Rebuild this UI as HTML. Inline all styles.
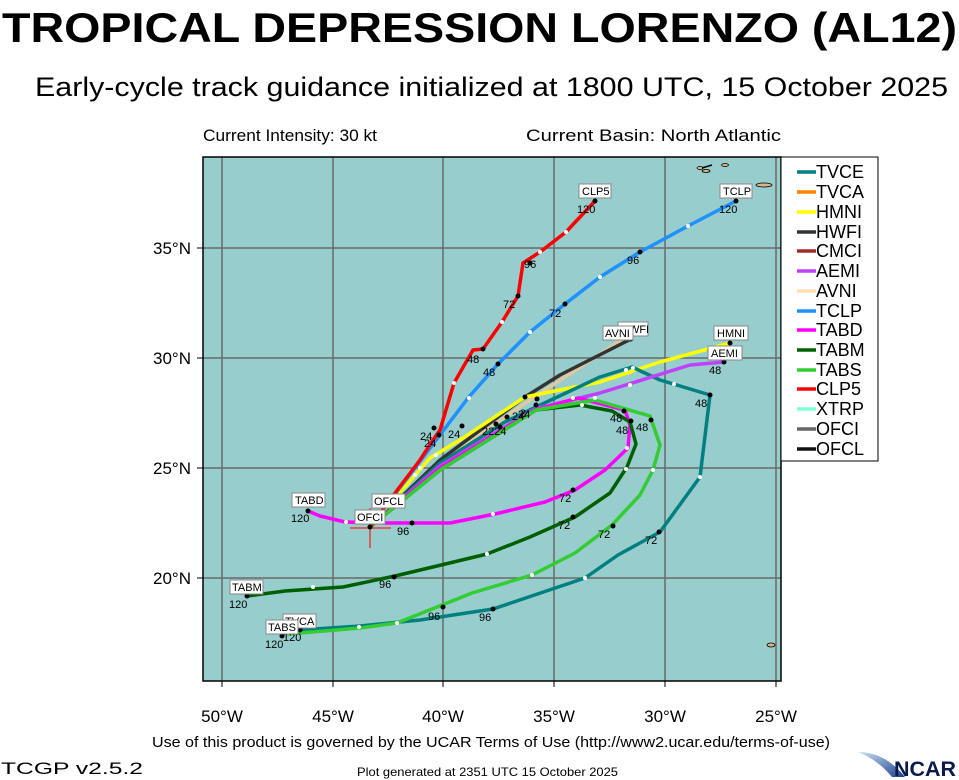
<!DOCTYPE html>
<html><head><meta charset="utf-8"><style>
html,body{margin:0;padding:0;background:#fff;}
svg{display:block;font-family:"Liberation Sans",Arial,sans-serif;}
</style></head><body>
<svg width="959" height="780" viewBox="0 0 959 780" xmlns="http://www.w3.org/2000/svg">
<rect width="959" height="780" fill="#fff"/>
<text x="2" y="42" font-size="42" font-weight="bold" textLength="955" lengthAdjust="spacingAndGlyphs">TROPICAL DEPRESSION LORENZO (AL12)</text>
<text x="35" y="96" font-size="27" textLength="913" lengthAdjust="spacingAndGlyphs">Early-cycle track guidance initialized at 1800 UTC, 15 October 2025</text>
<text x="203" y="141" font-size="17" textLength="174" lengthAdjust="spacingAndGlyphs">Current Intensity: 30 kt</text>
<text x="526" y="141" font-size="17" textLength="255" lengthAdjust="spacingAndGlyphs">Current Basin: North Atlantic</text>

<!-- map -->
<rect x="203" y="157" width="578" height="524" fill="#97cdcc"/>
<g stroke="#6a6a6a" stroke-width="1.5">
<line x1="222" y1="157" x2="222" y2="681"/><line x1="333" y1="157" x2="333" y2="681"/>
<line x1="443" y1="157" x2="443" y2="681"/><line x1="554" y1="157" x2="554" y2="681"/>
<line x1="665" y1="157" x2="665" y2="681"/><line x1="776" y1="157" x2="776" y2="681"/>
<line x1="203" y1="248" x2="781" y2="248"/><line x1="203" y1="358" x2="781" y2="358"/>
<line x1="203" y1="468" x2="781" y2="468"/><line x1="203" y1="578" x2="781" y2="578"/>
</g>
<!-- islands -->
<g fill="#d9b38c" stroke="#000" stroke-width="0.8">
<ellipse cx="700" cy="168" rx="3" ry="1.5"/><ellipse cx="706" cy="171" rx="4" ry="1.5"/>
<ellipse cx="725" cy="165" rx="3.5" ry="1.5"/><ellipse cx="764" cy="185" rx="8" ry="2"/>
<ellipse cx="771" cy="645" rx="4" ry="2"/>
</g>
<line x1="702" y1="168" x2="712" y2="165" stroke="#000" stroke-width="1.5"/>

<g fill="none" stroke-width="3.5" stroke-linejoin="round" stroke-linecap="round">
<polyline stroke="#e0c8a0" points="370,527 440,462 530,400 620,341"/>
<polyline stroke="#333" points="370,527 440,460 525,397 560,375 631,339"/>
<polyline stroke="#ffff00" points="370,527 430,458 460,440 525,397 600,382 660,362 730,343"/>
<polyline stroke="#008080" points="370,527 440,463 505,422 536,407 600,377 632,367 660,380 710,395 700,477 660,532 618,555 585,578 493,609 420,620 360,626 300,630"/>
<polyline stroke="#c040ff" points="370,527 440,466 535,409 600,393 690,365 724,362"/>
<polyline stroke="#ff00ff" points="370,527 440,468 535,410 578,398 625,410 630,425 628,448 605,470 575,490 545,502 495,514 450,523 411,523 385,523 345,522 320,516 308,511"/>
<polyline stroke="#006000" points="370,527 440,470 536,410 580,405 612,411 630,422 636,444 627,467 610,493 575,517 530,537 487,554 437,566 395,576 343,587 285,591 247,596"/>
<polyline stroke="#33cc33" points="370,527 440,470 536,410 595,400 650,416 660,445 653,470 640,495 612,525 575,553 532,575 472,593 397,623 360,628 288,634"/>
<polyline stroke="#1e90ff" points="370,527 440,435 468,398 498,364 530,332 565,304 600,277 640,252 688,226 736,201"/>
<polyline stroke="#ff0000" points="370,527 395,493 420,460 433,440 440,430 454,383 473,350 483,349 502,322 518,296 523,263 540,252 566,232 595,201"/>
</g>
<!-- dots -->
<g fill="#000">
<circle cx="595" cy="201" r="2.5"/><circle cx="736" cy="201" r="2.5"/><circle cx="483" cy="349" r="2.5"/>
<circle cx="498" cy="364" r="2.5"/><circle cx="518" cy="296" r="2.5"/><circle cx="565" cy="304" r="2.5"/>
<circle cx="640" cy="252" r="2.5"/><circle cx="530" cy="263" r="2.5"/><circle cx="434" cy="428" r="2.5"/>
<circle cx="439" cy="435" r="2.5"/><circle cx="462" cy="426" r="2.5"/><circle cx="631" cy="339" r="2.5"/>
<circle cx="730" cy="343" r="2.5"/><circle cx="724" cy="362" r="2.5"/><circle cx="710" cy="395" r="2.5"/>
<circle cx="624" cy="411" r="2.5"/><circle cx="631" cy="421" r="2.5"/><circle cx="651" cy="420" r="2.5"/>
<circle cx="573" cy="490" r="2.5"/><circle cx="573" cy="517" r="2.5"/><circle cx="613" cy="526" r="2.5"/>
<circle cx="659" cy="532" r="2.5"/><circle cx="412" cy="523" r="2.5"/><circle cx="394" cy="577" r="2.5"/>
<circle cx="443" cy="607" r="2.5"/><circle cx="493" cy="609" r="2.5"/><circle cx="308" cy="511" r="2.5"/>
<circle cx="247" cy="596" r="2.5"/><circle cx="300" cy="630" r="2.5"/><circle cx="282" cy="636" r="2.5"/>
<circle cx="525" cy="397" r="2.5"/><circle cx="537" cy="399" r="2.5"/><circle cx="536" cy="405" r="2.5"/>
<circle cx="507" cy="417" r="2.5"/><circle cx="496" cy="424" r="2.5"/><circle cx="500" cy="427" r="2.5"/>
</g>
<g fill="#fff">
<circle cx="454" cy="383" r="2"/><circle cx="502" cy="322" r="2"/><circle cx="540" cy="252" r="2"/><circle cx="566" cy="232" r="2"/>
<circle cx="469" cy="398" r="2"/><circle cx="530" cy="332" r="2"/><circle cx="600" cy="277" r="2"/><circle cx="688" cy="226" r="2"/>
<circle cx="633" cy="368" r="2"/><circle cx="626" cy="370" r="2"/><circle cx="630" cy="385" r="2"/><circle cx="674" cy="384" r="2"/>
<circle cx="573" cy="398" r="2"/><circle cx="595" cy="398" r="2"/><circle cx="582" cy="405" r="2"/><circle cx="627" cy="448" r="2"/>
<circle cx="626" cy="469" r="2"/><circle cx="653" cy="470" r="2"/><circle cx="700" cy="477" r="2"/><circle cx="493" cy="514" r="2"/>
<circle cx="487" cy="554" r="2"/><circle cx="532" cy="575" r="2"/><circle cx="585" cy="578" r="2"/><circle cx="346" cy="522" r="2"/>
<circle cx="313" cy="587" r="2"/><circle cx="359" cy="627" r="2"/><circle cx="397" cy="623" r="2"/>
<circle cx="436" cy="455" r="2"/><circle cx="420" cy="468" r="2"/><circle cx="415" cy="475" r="2"/>
</g>
<!-- OFCI cross -->
<g stroke="#ff2020" stroke-width="1.3"><line x1="350" y1="528" x2="391" y2="528"/><line x1="370" y1="508" x2="370" y2="548"/></g>
<circle cx="370" cy="527" r="2.5" fill="#000"/>

<g font-size="11" fill="#000">
<text x="577" y="213">120</text><text x="719" y="213">120</text>
<text x="467" y="363">48</text><text x="483" y="376">48</text><text x="503" y="308">72</text><text x="549" y="317">72</text>
<text x="524" y="268">96</text><text x="627" y="264">96</text>
<text x="420" y="440">24</text><text x="424" y="447">24</text><text x="448" y="438">24</text>
<text x="482" y="435">2224</text><text x="512" y="420">24</text><text x="518" y="418">24</text><text x="520" y="417">2</text>
<text x="707" y="353">48</text><text x="709" y="374">48</text><text x="695" y="407">48</text>
<text x="610" y="422">48</text><text x="616" y="434">48</text><text x="636" y="431">48</text>
<text x="559" y="502">72</text><text x="558" y="529">72</text><text x="598" y="538">72</text><text x="645" y="544">72</text>
<text x="397" y="535">96</text><text x="379" y="588">96</text><text x="428" y="620">96</text><text x="479" y="621">96</text>
<text x="291" y="522">120</text><text x="229" y="608">120</text><text x="283" y="641">120</text><text x="265" y="648">120</text>
</g>
<g font-size="11" fill="#000" stroke-width="1">
<rect x="579" y="184" width="32" height="14" fill="#fff" stroke="#888"/><text x="582" y="195">CLP5</text>
<rect x="720" y="184" width="32" height="14" fill="#fff" stroke="#888"/><text x="723" y="195">TCLP</text>
<rect x="618" y="322" width="30" height="14" fill="#fff" stroke="#888"/><text x="621" y="333">HWFI</text>
<rect x="603" y="326" width="30" height="14" fill="#fff" stroke="#888"/><text x="605" y="337">AVNI</text>
<rect x="714" y="326" width="34" height="14" fill="#fff" stroke="#888"/><text x="717" y="337">HMNI</text>
<rect x="708" y="346" width="34" height="14" fill="#fff" stroke="#888"/><text x="711" y="357">AEMI</text>
<rect x="292" y="493" width="33" height="14" fill="#fff" stroke="#888"/><text x="295" y="504">TABD</text>
<rect x="372" y="494" width="33" height="14" fill="#fff" stroke="#888"/><text x="374" y="505">OFCL</text>
<rect x="355" y="510" width="30" height="14" fill="#fff" stroke="#888"/><text x="357" y="521">OFCI</text>
<rect x="230" y="580" width="33" height="14" fill="#fff" stroke="#888"/><text x="232" y="591">TABM</text>
<rect x="283" y="614" width="33" height="14" fill="#fff" stroke="#888"/><text x="285" y="625">TVCA</text>
<rect x="266" y="620" width="32" height="14" fill="#fff" stroke="#888"/><text x="268" y="631">TABS</text>
</g>
<rect x="203" y="157" width="578" height="524" fill="none" stroke="#000" stroke-width="1.5"/>

<!-- ticks -->
<g stroke="#000" stroke-width="1">
<line x1="222" y1="681" x2="222" y2="687"/><line x1="333" y1="681" x2="333" y2="687"/><line x1="443" y1="681" x2="443" y2="687"/>
<line x1="554" y1="681" x2="554" y2="687"/><line x1="665" y1="681" x2="665" y2="687"/><line x1="776" y1="681" x2="776" y2="687"/>
<line x1="197" y1="248" x2="203" y2="248"/><line x1="197" y1="358" x2="203" y2="358"/><line x1="197" y1="468" x2="203" y2="468"/><line x1="197" y1="578" x2="203" y2="578"/>
</g>
<g font-size="17" text-anchor="middle">
<text x="222" y="722">50°W</text><text x="333" y="722">45°W</text><text x="443" y="722">40°W</text>
<text x="554" y="722">35°W</text><text x="665" y="722">30°W</text><text x="776" y="722">25°W</text>
</g>
<g font-size="17" text-anchor="end">
<text x="191" y="254">35°N</text><text x="191" y="364">30°N</text><text x="191" y="474">25°N</text><text x="191" y="584">20°N</text>
</g>

<!-- legend -->
<rect x="781" y="157" width="97" height="304" fill="#fff" stroke="#000" stroke-width="1"/>
<g stroke-width="3.5">
<line x1="797" y1="172" x2="816" y2="172" stroke="#008080"/>
<line x1="797" y1="192" x2="816" y2="192" stroke="#ff8000"/>
<line x1="797" y1="212" x2="816" y2="212" stroke="#ffff00"/>
<line x1="797" y1="232" x2="816" y2="232" stroke="#333"/>
<line x1="797" y1="251" x2="816" y2="251" stroke="#a52a2a"/>
<line x1="797" y1="271" x2="816" y2="271" stroke="#c040ff"/>
<line x1="797" y1="291" x2="816" y2="291" stroke="#ffdead"/>
<line x1="797" y1="311" x2="816" y2="311" stroke="#1e90ff"/>
<line x1="797" y1="330" x2="816" y2="330" stroke="#ff00ff"/>
<line x1="797" y1="350" x2="816" y2="350" stroke="#006000"/>
<line x1="797" y1="370" x2="816" y2="370" stroke="#33cc33"/>
<line x1="797" y1="389" x2="816" y2="389" stroke="#ff0000"/>
<line x1="797" y1="409" x2="816" y2="409" stroke="#7fffd4"/>
<line x1="797" y1="429" x2="816" y2="429" stroke="#666"/>
<line x1="797" y1="449" x2="816" y2="449" stroke="#111"/>
</g>
<g font-size="18">
<text x="816" y="178">TVCE</text><text x="816" y="198">TVCA</text><text x="816" y="218">HMNI</text>
<text x="816" y="238">HWFI</text><text x="816" y="257">CMCI</text><text x="816" y="277">AEMI</text>
<text x="816" y="297">AVNI</text><text x="816" y="317">TCLP</text><text x="816" y="336">TABD</text>
<text x="816" y="356">TABM</text><text x="816" y="376">TABS</text><text x="816" y="395">CLP5</text>
<text x="816" y="415">XTRP</text><text x="816" y="435">OFCI</text><text x="816" y="455">OFCL</text>
</g>

<text x="152" y="747" font-size="15" textLength="678" lengthAdjust="spacingAndGlyphs">Use of this product is governed by the UCAR Terms of Use (http://www2.ucar.edu/terms-of-use)</text>
<text x="1" y="774" font-size="17" textLength="142" lengthAdjust="spacingAndGlyphs">TCGP v2.5.2</text>
<text x="357" y="776" font-size="12" textLength="261" lengthAdjust="spacingAndGlyphs">Plot generated at 2351 UTC   15 October 2025</text>
<defs><linearGradient id="ng" x1="0" y1="0" x2="1" y2="1"><stop offset="0" stop-color="#cfe3f3"/><stop offset="1" stop-color="#1a3f8f"/></linearGradient></defs>
<path d="M858,752 Q885,752 905,777 L892,777 Q878,760 858,752 Z" fill="url(#ng)"/>
<text x="894" y="776" font-size="21" font-weight="bold" fill="#0a1a4a" textLength="62" lengthAdjust="spacingAndGlyphs">NCAR</text>
</svg>
</body></html>
